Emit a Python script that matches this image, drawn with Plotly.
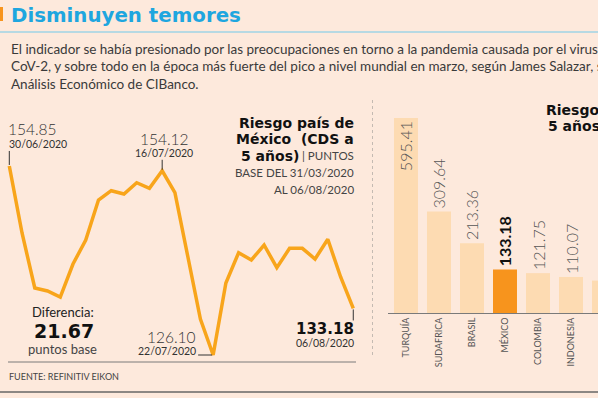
import plotly.graph_objects as go

W, H = 598, 398

# ---------------- data ----------------
dates = ["30/06/2020", "01/07/2020", "02/07/2020", "03/07/2020", "06/07/2020", "07/07/2020",
         "08/07/2020", "09/07/2020", "10/07/2020", "13/07/2020", "14/07/2020", "15/07/2020",
         "16/07/2020", "17/07/2020", "20/07/2020", "21/07/2020", "22/07/2020", "23/07/2020",
         "24/07/2020", "27/07/2020", "28/07/2020", "29/07/2020", "30/07/2020", "31/07/2020",
         "03/08/2020", "04/08/2020", "05/08/2020", "06/08/2020"]
cds_mexico = [154.85, 144.66, 136.29, 135.84, 134.92, 139.94, 143.59, 149.68, 151.09, 150.59,
              152.31, 151.46, 154.12, 150.79, 141.20, 131.58, 126.10, 137.05, 141.66, 140.55,
              142.83, 139.38, 142.33, 142.33, 140.70, 143.70, 138.01, 133.18]

countries = ["TURQUÍA", "SUDAFRICA", "BRASIL", "MÉXICO", "COLOMBIA", "INDONESIA", "…"]
cds_countries = [595.41, 309.64, 213.36, 133.18, 121.75, 110.07, 99.0]

# ---------------- styles ----------------
BG = "#fde9dc"
LINE = "#f8a51b"
BAR_LIGHT = "#fddbb2"
BAR_MX = "#f7941d"
FONT = "Lato"
BOLD = "DejaVu Sans"


def px(x):
    return x / W


def py(y):
    return 1 - y / H


fig = go.Figure()

fig.add_trace(go.Scatter(
    x=dates, y=cds_mexico, mode="lines",
    line=dict(color=LINE, width=3.5, shape="linear"),
    xaxis="x", yaxis="y", hoverinfo="skip", showlegend=False,
))

labels = []
for c, v in zip(countries, cds_countries):
    if c == "MÉXICO":
        labels.append(f"<b>{v:.2f}</b>")
    else:
        labels.append(f"{v:.2f}")
positions = ["inside"] + ["outside"] * (len(countries) - 1)
colors = [BAR_MX if c == "MÉXICO" else BAR_LIGHT for c in countries]
text_colors = ["#111111" if c == "MÉXICO" else "#555555" for c in countries]

fig.add_trace(go.Bar(
    x=countries, y=cds_countries, marker=dict(color=colors, line=dict(width=0)),
    text=labels, textposition=positions, textangle=-90, insidetextanchor="end",
    textfont=dict(family=FONT, size=16, color=text_colors, weight=300),
    constraintext="none", cliponaxis=False,
    xaxis="x2", yaxis="y2", hoverinfo="skip", showlegend=False,
))

# line chart axes: index 0 at x=9.3px, 12.74 px per step; 154.85 at y=166px, 6.574 px/unit
fig.update_layout(
    xaxis=dict(domain=[0, px(365)], range=[-0.73, 27.92], type="category",
               visible=False, fixedrange=True),
    yaxis=dict(domain=[py(370), py(150)], range=[123.82, 157.28],
               visible=False, fixedrange=True),
    xaxis2=dict(domain=[px(388), 1], range=[-0.545, 5.818], type="category",
                showline=True, linecolor="#7a7a7a", linewidth=1, ticks="",
                tickangle=-90, tickfont=dict(family=FONT, size=9, color="#555555"),
                showgrid=False, zeroline=False, anchor="y2", fixedrange=True),
    yaxis2=dict(domain=[py(313), py(100)], range=[0, 650.4], visible=False,
                anchor="x2", fixedrange=True),
    bargap=0.273,
)

ann = []


def T(text, x, y, size, color="#333333", xanchor="left", weight=400, yanchor="middle", family=FONT):
    ann.append(dict(text=text, x=px(x), y=py(y), xref="paper", yref="paper",
                    xanchor=xanchor, yanchor=yanchor, showarrow=False,
                    font=dict(family=family, size=size, color=color, weight=weight)))


# header
T("Disminuyen temores", 9, 16, 19.8, color="#1ea6df", weight=700, family=BOLD)
T("El indicador se había presionado por las preocupaciones en torno a la pandemia causada por el virus SARS-",
  9, 49, 13.5, color="#3a3a3a")
T("CoV-2, y sobre todo en la época más fuerte del pico a nivel mundial en marzo, según James Salazar, subdirector de",
  9, 66, 13.5, color="#3a3a3a")
T("Análisis Económico de CIBanco.", 9, 84, 13.5, color="#3a3a3a")

# line chart title block
T("Riesgo país de", 356, 122.7, 14, color="#111111", xanchor="right", weight=700, family=BOLD)
T("México  (CDS a", 356, 139, 14, color="#111111", xanchor="right", weight=700, family=BOLD)
T("5 años)", 301, 155.7, 14, color="#111111", xanchor="right", weight=700, family=BOLD)
T("| PUNTOS", 356, 156, 11.5, color="#444444", xanchor="right")
T("BASE DEL 31/03/2020", 356, 172.7, 11.5, color="#444444", xanchor="right")
T("AL 06/08/2020", 356, 189.3, 11.5, color="#444444", xanchor="right")

# point labels
T("154.85", 6, 129, 15.5, color="#333333", weight=300)
T("30/06/2020", 7, 144, 10.5, color="#333333")
T("154.12", 164.5, 139.3, 15.5, color="#333333", xanchor="center", weight=300)
T("16/07/2020", 163.5, 153.3, 10.5, color="#333333", xanchor="center")
T("126.10", 198, 336.7, 15.5, color="#333333", xanchor="right", weight=300)
T("22/07/2020", 198, 351, 10.5, color="#333333", xanchor="right")
T("133.18", 356, 329.3, 15, color="#111111", xanchor="right", weight=700, family=BOLD)
T("06/08/2020", 356, 343.3, 10.5, color="#333333", xanchor="right")

T("Diferencia:", 63, 311.7, 13, color="#222222", xanchor="center")
T("21.67", 64, 330.7, 19, color="#111111", xanchor="center", weight=700, family=BOLD)
T("puntos base", 62, 349.3, 13, color="#444444", xanchor="center")
T("FUENTE: REFINITIV EIKON", 7, 376.7, 9, color="#444444")

# bar chart title (cut at the edge)
T("Riesgo", 544, 110, 14, color="#111111", weight=700, family=BOLD)
T("5 años", 546, 126, 14, color="#111111", weight=700, family=BOLD)

shapes = [
    dict(type="rect", xref="paper", yref="paper", x0=0, x1=px(3), y0=py(21), y1=py(7),
         fillcolor=BAR_MX, line=dict(width=0)),
    dict(type="line", xref="paper", yref="paper", x0=0, x1=1, y0=py(32), y1=py(32),
         line=dict(color="#9fd3e6", width=1.5)),
    dict(type="line", xref="paper", yref="paper", x0=px(8), x1=px(356), y0=py(362), y1=py(362),
         line=dict(color="#7a7a7a", width=1)),
    dict(type="line", xref="paper", yref="paper", x0=0, x1=1, y0=py(392), y1=py(392),
         line=dict(color="#666666", width=1.5)),
    dict(type="line", xref="paper", yref="paper", x0=px(372.5), x1=px(372.5), y0=py(100), y1=py(358),
         line=dict(color="#c4bab2", width=1, dash="dot")),
    # tick lines linking labels to data points
    dict(type="line", xref="x", yref="y", ysizemode="pixel", yanchor=cds_mexico[0],
         x0=dates[0], x1=dates[0], y0=1, y1=15, line=dict(color="#333333", width=1)),
    dict(type="line", xref="x", yref="y", ysizemode="pixel", yanchor=cds_mexico[12],
         x0=dates[12], x1=dates[12], y0=1, y1=11, line=dict(color="#333333", width=1)),
    dict(type="line", xref="x", yref="y", xsizemode="pixel", xanchor=dates[16],
         x0=-15, x1=-1, y0=cds_mexico[16], y1=cds_mexico[16], line=dict(color="#333333", width=1)),
    dict(type="line", xref="x", yref="y", ysizemode="pixel", yanchor=cds_mexico[27],
         x0=dates[27], x1=dates[27], y0=-1, y1=-12, line=dict(color="#333333", width=1)),
]

fig.update_layout(
    width=W, height=H, autosize=False,
    margin=dict(l=0, r=0, t=0, b=0, pad=0),
    paper_bgcolor=BG, plot_bgcolor=BG,
    annotations=ann, shapes=shapes,
    font=dict(family=FONT),
)

fig.write_html(
    "out.html",
    config={"displayModeBar": False},
    post_script="document.body.style.margin='0';document.body.style.padding='0';"
                "document.body.style.overflow='hidden';document.body.style.background='" + BG + "';",
)
